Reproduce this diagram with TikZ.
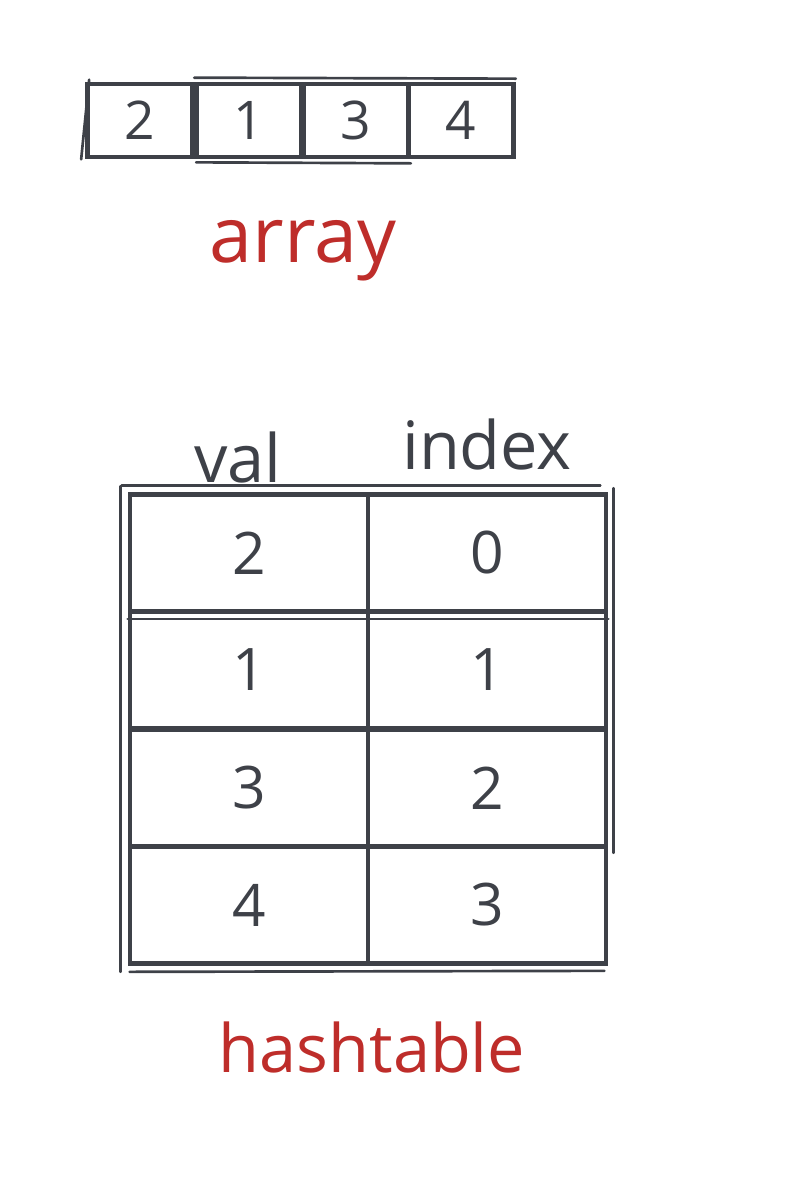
\documentclass[tikz,border=0pt]{standalone}
\usepackage{fontspec}
\setmainfont{Open Sans}
\usetikzlibrary{positioning}
\definecolor{inkgray}{RGB}{62,65,72}
\definecolor{inkred}{RGB}{190,45,42}
\tikzset{
  cellbox/.style={draw=inkgray, line width=3.5pt, text=inkgray, inner sep=0pt,
    minimum width=78.75pt, minimum height=54.75pt, font=\fontsize{40}{44}\selectfont},
  tablecell/.style={draw=inkgray, line width=3.5pt, text=inkgray, inner sep=0pt,
    minimum width=178.5pt, minimum height=87.75pt, font=\fontsize{44}{48}\selectfont},
  sketch/.style={draw=inkgray, line width=2pt, line cap=round},
  headtext/.style={text=inkgray, anchor=base, inner sep=0pt, font=\fontsize{50}{54}\selectfont},
  redtext/.style={text=inkred, anchor=base, inner sep=0pt, font=\fontsize{50}{54}\selectfont}
}
\begin{document}
\begin{tikzpicture}[x=0.75pt,y=0.75pt,yscale=-1,xscale=1]
\useasboundingbox (0,0) rectangle (796,1186);

%Shape: array cells
\node[cellbox] (a1) at (140,120.5) {2};
\node[cellbox] (a2) at (249,120.5) {1};
\node[cellbox] (a3) at (356,120.5) {3};
\node[cellbox] (a4) at (461,120.5) {4};
%Straight Lines: second strokes
\draw[sketch] ([shift={(0,-4)}]a2.north west) -- ([shift={(0,-3)}]a4.north east);
\draw[sketch] ([shift={(-4,0)}]a1.south west) -- ([shift={(4,-2)}]a1.north west);
\draw[sketch] ([shift={(2,3)}]a2.south west) -- ([shift={(0,4)}]a3.south east);

% Text Node
\node[redtext, font=\fontsize{58}{62}\selectfont] (arraylabel) at (303,262) {array};

% Text Node
\node[headtext] (valhead) at (238,482) {val};
% Text Node
\node[headtext] (idxhead) at (487,469) {index};

%Shape: hashtable cells
\node[tablecell] (v1) at (249,553) {2};
\node[tablecell] (i1) at (487,553) {0};
\node[tablecell] (v2) at (249,670) {1};
\node[tablecell] (i2) at (487,670) {1};
\node[tablecell] (v3) at (249,788) {3};
\node[tablecell] (i3) at (487,788) {2};
\node[tablecell] (v4) at (249,905) {4};
\node[tablecell] (i4) at (487,905) {3};
%Straight Lines: second strokes
\draw[sketch] ([shift={(-6,-7)}]v1.north west) -- ([shift={(-8,-7)}]i1.north east);
\draw[sketch] ([shift={(-7,-6)}]v1.north west) -- ([shift={(-7,6)}]v4.south west);
\draw[sketch] ([shift={(2,6)}]v4.south west) -- ([shift={(-4,5)}]i4.south east);
\draw[sketch] ([shift={(5,-4)}]i1.north east) -- ([shift={(5,4)}]i3.south east);
\draw[sketch] ([shift={(0,5)}]v1.south west) -- ([shift={(0,5)}]i1.south east);

% Text Node
\node[redtext] (hashlabel) at (372,1072) {hashtable};

\end{tikzpicture}
\end{document}
